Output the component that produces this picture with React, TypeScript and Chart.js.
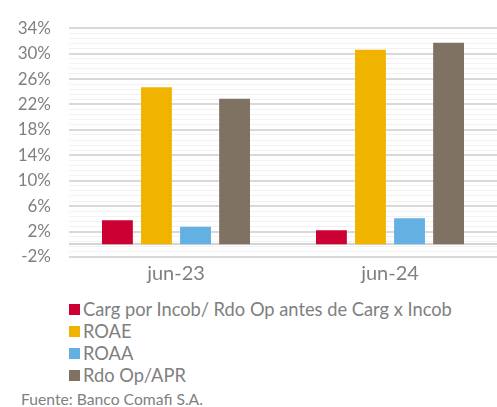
import React, { useEffect, useRef } from 'react';
import { Chart, registerables } from 'chart.js';

Chart.register(...registerables);

const categories = ['jun-23', 'jun-24'];
const seriesNames = ['Carg por Incob/ Rdo Op antes de Carg x Incob', 'ROAE', 'ROAA', 'Rdo Op/APR'];
const cargPorIncob = [3.8, 2.2];
const roae = [24.7, 30.6];
const roaa = [2.75, 4.1];
const rdoOpApr = [22.9, 31.7];
const seriesColors = ['#CC0033', '#F0B400', '#63B0E3', '#7F7262'];
const yMin = -2;
const yMax = 34;
const minorStep = 0.8;
const minorPerMajor = 5;
const sourceText = 'Fuente: Banco Comafi S.A.';

const FONT = 'Lato, "Noto Sans", sans-serif';
const TEXT_COLOR = '#808080';

const zeroLinePlugin = {
  id: 'zeroLine',
  beforeDatasetsDraw(chart: any) {
    const { ctx, chartArea, scales } = chart;
    const y = Math.round(scales.y.getPixelForValue(0));
    ctx.save();
    ctx.strokeStyle = '#D4D4D4';
    ctx.lineWidth = 2;
    ctx.beginPath();
    ctx.moveTo(chartArea.left, y);
    ctx.lineTo(chartArea.right, y);
    ctx.stroke();
    ctx.restore();
  },
};

export default function App() {
  const canvasRef = useRef<HTMLCanvasElement>(null);

  useEffect(() => {
    let chart: Chart | null = null;
    let cancelled = false;
    const build = () => {
      if (cancelled || !canvasRef.current) return;
      const seriesValues = [cargPorIncob, roae, roaa, rdoOpApr];
      chart = new Chart(canvasRef.current, {
        type: 'bar',
        data: {
          labels: categories,
          datasets: seriesNames.map((name, i) => ({
            label: name,
            data: seriesValues[i],
            backgroundColor: seriesColors[i],
            borderWidth: 0,
            categoryPercentage: 0.73,
            barPercentage: 0.79,
          })),
        },
        options: {
          responsive: false,
          animation: false,
          layout: { padding: { top: 23, left: 0, right: 0, bottom: 0 } },
          plugins: {
            legend: { display: false },
            tooltip: { enabled: false },
          },
          scales: {
            x: {
              grid: { display: false, drawTicks: false },
              border: { display: false },
              ticks: {
                font: { family: FONT, size: 20 },
                color: TEXT_COLOR,
                padding: 5,
              },
              afterFit: (s: any) => {
                s.height = 33;
              },
            },
            y: {
              min: yMin,
              max: yMax,
              border: { display: false },
              grid: {
                drawTicks: false,
                color: (c: any) => (c.index % minorPerMajor === 0 ? '#D9D9D9' : '#F2F2F2'),
                lineWidth: (c: any) => (c.index % minorPerMajor === 0 ? 2 : 1),
              },
              ticks: {
                stepSize: minorStep,
                maxTicksLimit: 100,
                autoSkip: false,
                padding: 18,
                font: { family: FONT, size: 17 },
                color: TEXT_COLOR,
                callback: (value: any, index: number) =>
                  index % minorPerMajor === 0 ? `${Math.round(Number(value))}%` : '',
              },
              afterFit: (s: any) => {
                s.width = 69;
              },
            },
          },
        },
        plugins: [zeroLinePlugin],
      });
    };
    const fontsReady = (document as any).fonts
      ? Promise.all([
          (document as any).fonts.load('17px Lato'),
          (document as any).fonts.load('20px Lato'),
        ]).catch(() => null)
      : Promise.resolve(null);
    fontsReady.then(build);
    return () => {
      cancelled = true;
      if (chart) chart.destroy();
    };
  }, []);

  return (
    <div
      style={{
        position: 'absolute',
        left: 0,
        top: 0,
        width: 497,
        height: 407,
        background: '#FFFFFF',
        overflow: 'hidden',
        fontFamily: FONT,
        color: TEXT_COLOR,
      }}
    >
      <canvas ref={canvasRef} width={497} height={290} style={{ display: 'block' }} />
      <div style={{ position: 'absolute', left: 69, top: 298 }}>
        {seriesNames.map((name, i) => (
          <div
            key={name}
            style={{ display: 'flex', alignItems: 'center', height: 22, fontSize: 18.3, whiteSpace: 'nowrap' }}
          >
            <span
              style={{
                display: 'inline-block',
                width: 11,
                height: 11,
                background: seriesColors[i],
                marginRight: 3,
              }}
            />
            <span>{name}</span>
          </div>
        ))}
      </div>
      <div
        style={{
          position: 'absolute',
          left: 21,
          top: 392,
          fontSize: 15.7,
          lineHeight: '15px',
          whiteSpace: 'nowrap',
        }}
      >
        {sourceText}
      </div>
    </div>
  );
}
